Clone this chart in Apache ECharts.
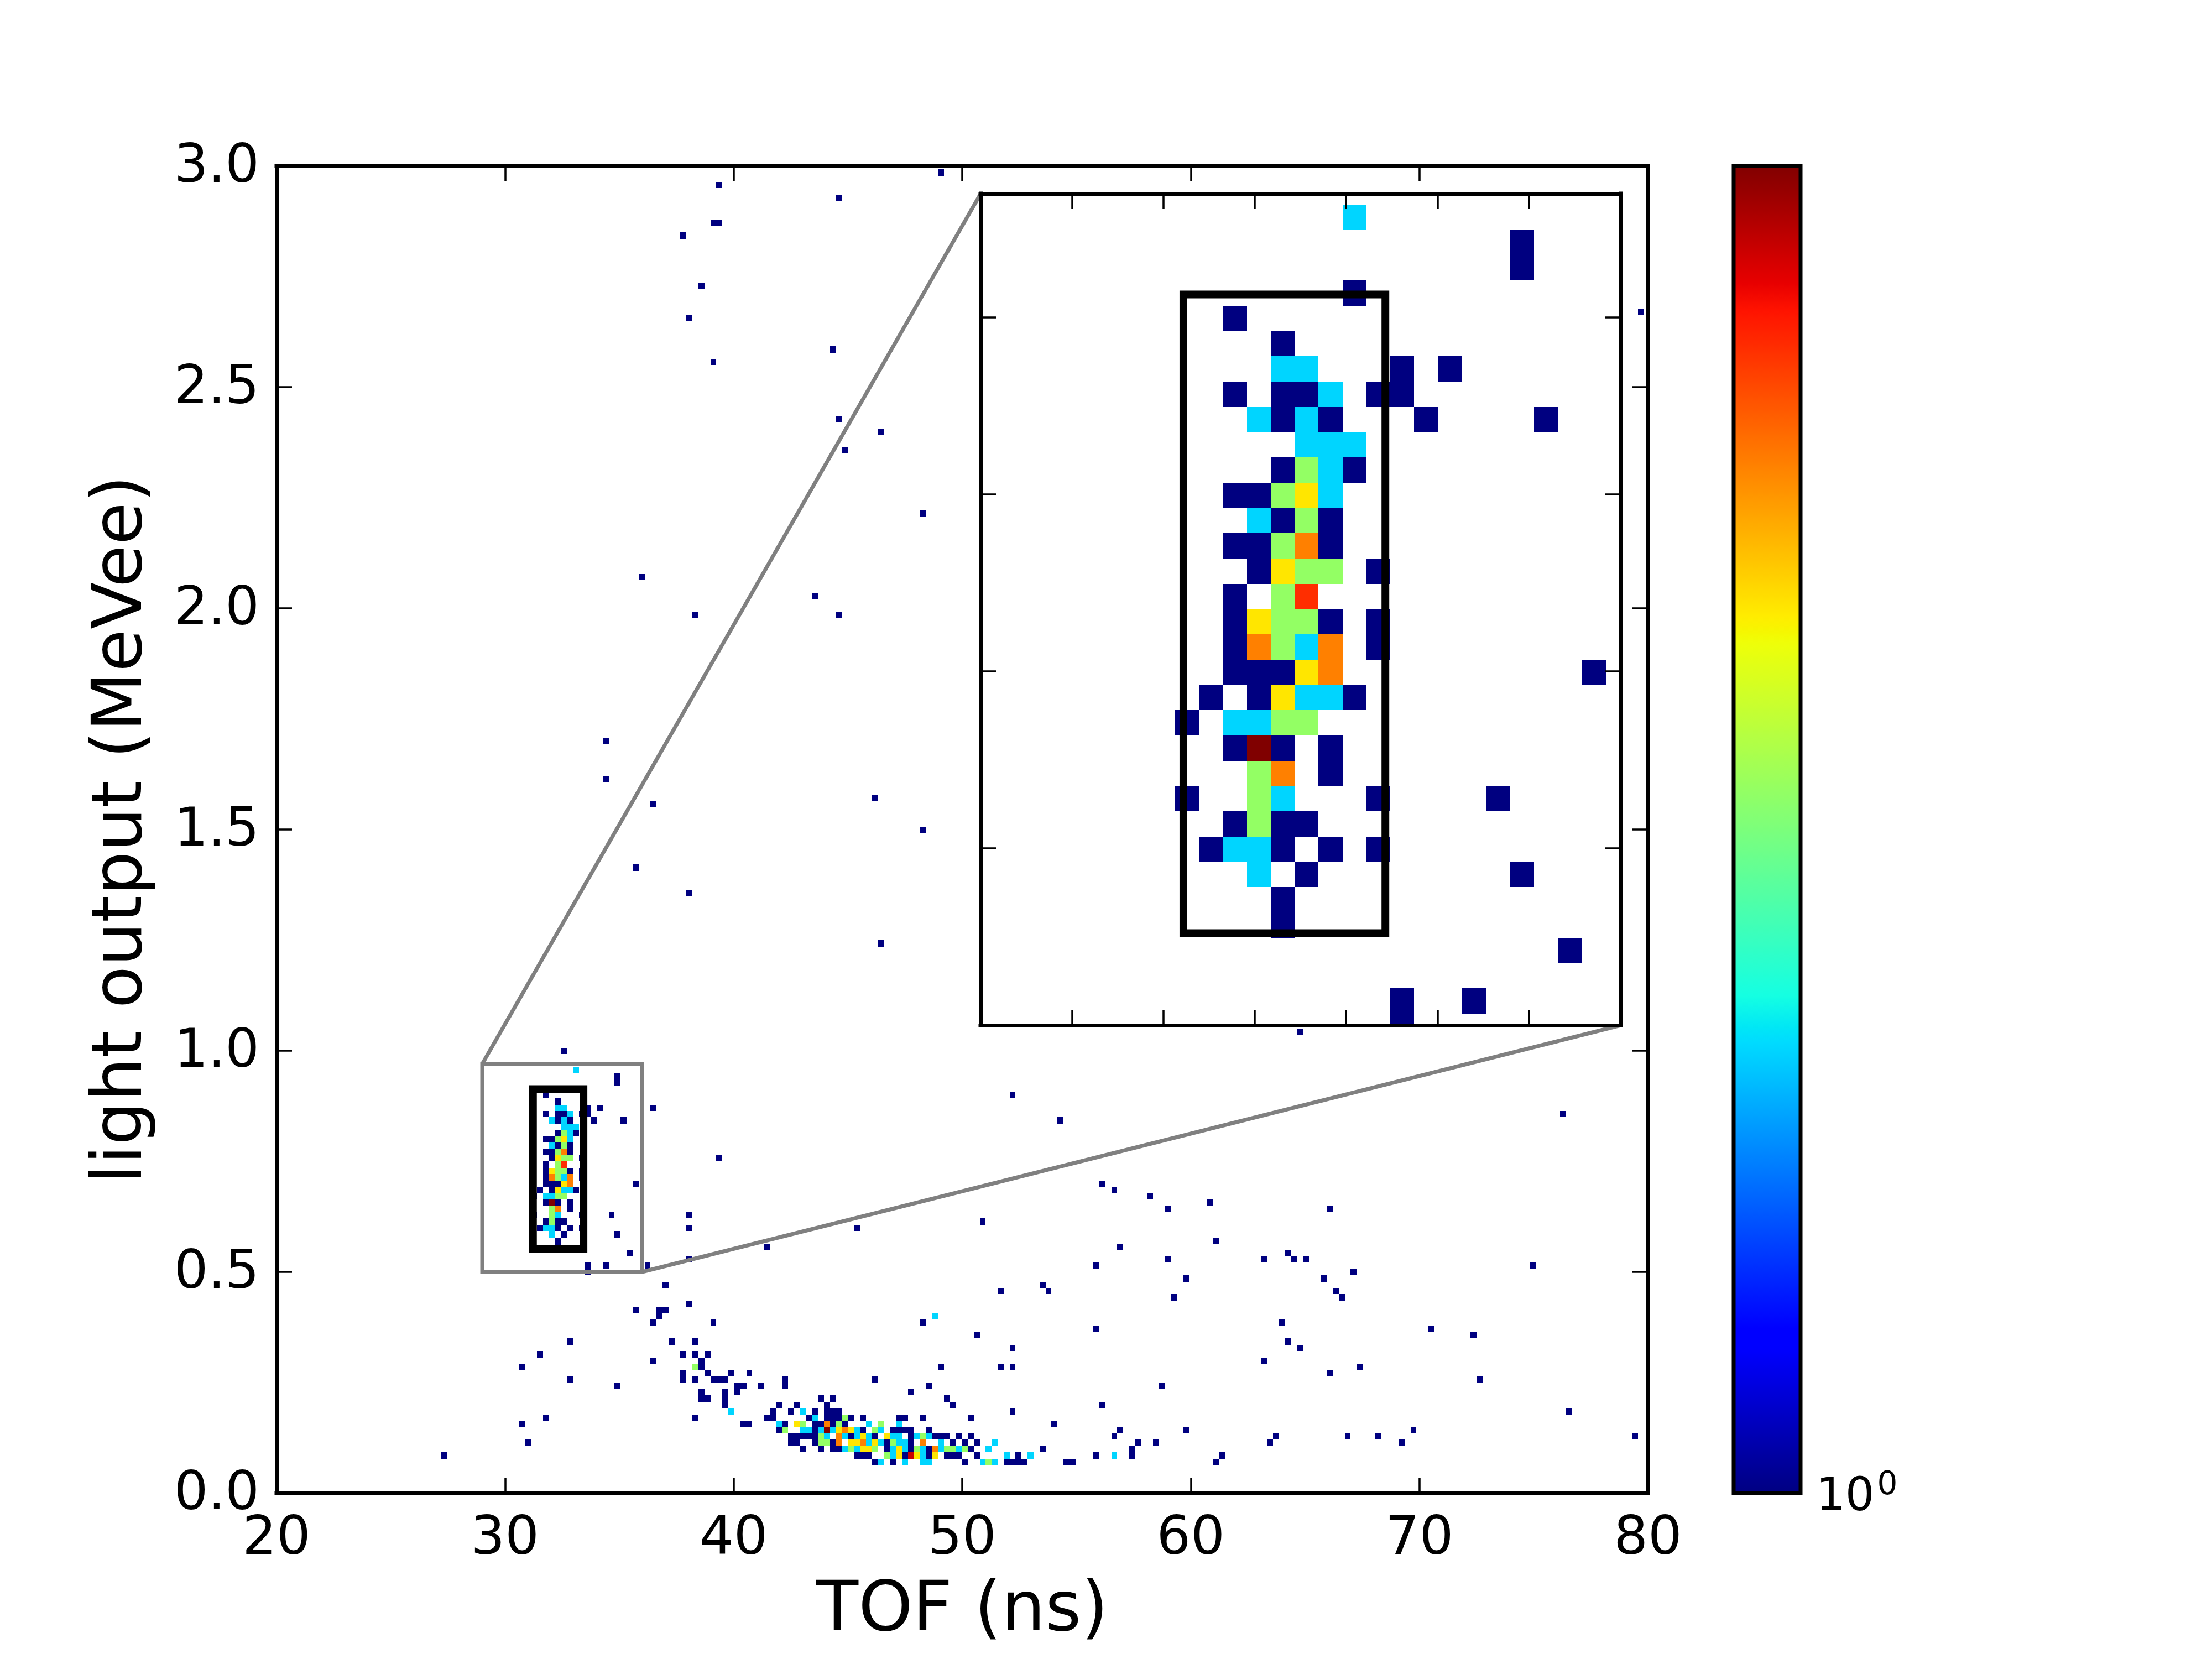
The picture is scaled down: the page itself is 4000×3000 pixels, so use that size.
<!DOCTYPE html>
<html>
<head>
<meta charset="utf-8">
<title>TOF vs light output</title>
<script src="https://cdn.jsdelivr.net/npm/echarts@6/dist/echarts.min.js"></script>
<style>
  html, body { margin: 0; padding: 0; background: #fff; }
  #chart { width: 4000px; height: 3000px; }
</style>
</head>
<body>
<div id="chart"></div>
<script>
// Occupied histogram bins, grouped by event count. Every entry is [lightBin, tofBin, tofBin, ...].
const countOneBins = [
  [4, 71,74,86,93,94,95,96,103,104,128],
  [5, -1,68,69,70,76,80,83,84,85,88,95,108,114,129],
  [6, 59,62,64,65,73,77,80,87,99,114],
  [7, 13,57,58,61,64,73,77,84,86,88,115,118,137,159],
  [8, 57,58,59,60,61,67,71,77,81,82,83,85,87,111,138,150,155,198],
  [9, 55,61,69,74,75,76,77,80,112,123,161],
  [10, 12,49,50,56,61,62,64,66,101],
  [11, 16,41,53,54,60,63,64,65,67,69,75,76,79,87],
  [12, 54,57,61,63,64,65,94,187],
  [13, 46,55,58,63,84,109],
  [14, 42,43,46,62,64,83],
  [15, 42,46,48,77],
  [16, 28,48,49,52,56,80,119],
  [17, 20,39,41,44,45,46,56,71,172],
  [18, 39,43,47,50,147],
  [19, 12,42,82,92,94,152],
  [20, 34,42,136],
  [21, 15,39,41,43],
  [22, 94,142],
  [23, 20,37,41,140],
  [24, 88,171],
  [25, 108,164],
  [26, 34,44,79,139],
  [27, 35],
  [28, 31,35,36],
  [29, 40],
  [30, 121,149],
  [31, 92,100,148],
  [32, 36,99],
  [33, 123,146],
  [34, 23,151],
  [35, 23,26,33,108,181],
  [36, 40,120,136,141,143],
  [37, 30,140],
  [38, 18,53,112],
  [39, 18,128],
  [40, 19,28],
  [41, 15,18,20,22,40,68],
  [42, 16,18,19,89],
  [43, 14,22,27,40],
  [44, 20,120,147],
  [45, 16,18,20,127],
  [46, 14,117],
  [47, 15,17,21,111],
  [48, 16,17,18,31,109],
  [49, 16,22],
  [50, 16,20,22],
  [51, 16],
  [52, 17,22,45],
  [53, 16,17,20],
  [54, 18,20],
  [55, 16,17],
  [56, 18,21],
  [58, 18,20,24,29,102],
  [59, 16,18,19,22,23,186],
  [60, 23,25,34],
  [61, 18],
  [62, 16,94],
  [63, 21],
  [64, 28],
  [65, 28],
  [69, 19],
  [72, 142],
  [86, 72],
  [94, 40],
  [98, 31],
  [104, 79],
  [108, 34],
  [109, 71],
  [112, 26],
  [118, 26],
  [138, 41,65],
  [141, 61],
  [144, 32],
  [154, 79],
  [164, 66],
  [167, 72],
  [169, 65],
  [178, 44],
  [180, 64],
  [185, 40],
  [186, 199],
  [190, 42],
  [198, 39],
  [200, 44,45],
  [204, 65],
  [206, 45],
  [208, 82]
];
const countTwoBins = [
  [4, 72,76,79,80,89,91],
  [5, 74,79,93,97,111],
  [6, 66,68,74,76,79,82,85,90],
  [7, 70,72,75,76,82,91],
  [8, 63,66,68,70,74,75,78,80],
  [9, 59,60,62,64,68,72],
  [10, 55,70,75],
  [11, 61],
  [12, 47,59],
  [27, 81],
  [40, 17],
  [41, 16,17],
  [43, 18],
  [46, 16,17],
  [47, 19,20],
  [49, 19],
  [54, 17],
  [55, 20],
  [56, 20],
  [57, 19,20,21],
  [58, 17,19],
  [59, 20],
  [60, 18,19],
  [66, 21]
];
const countThreeBins = [
  [4, 90],
  [5, 73],
  [6, 67,71,78,83,84,86],
  [7, 62,63,74],
  [8, 62,79],
  [9, 56,71],
  [10, 59,65,72],
  [11, 66],
  [19, 41],
  [42, 17],
  [43, 17],
  [44, 17],
  [46, 18,19],
  [49, 18],
  [50, 18,19],
  [51, 18],
  [52, 19,20],
  [53, 18],
  [54, 19],
  [55, 18],
  [56, 19]
];
const countFourBins = [
  [5, 75,78,81],
  [6, 69,70,75],
  [7, 67,68,71],
  [8, 69,73],
  [9, 65,67],
  [10, 58],
  [47, 18],
  [48, 19],
  [50, 17],
  [52, 18],
  [55, 19]
];
const countFiveBins = [
  [6, 81],
  [7, 65,69,79],
  [8, 65],
  [9, 66],
  [10, 63],
  [44, 18],
  [48, 20],
  [49, 17,20],
  [53, 19]
];
const countSixBins = [[51, 19]];
const countSevenBins = [[5, 77]];
const countEightBins = [[9, 63], [45, 17]];
const binsByCount = [countOneBins, countTwoBins, countThreeBins, countFourBins,
                     countFiveBins, countSixBins, countSevenBins, countEightBins];

// Histogram binning (ns and MeVee)
const tofOrigin = 27.463;
const tofBinWidth = 0.2618;
const lightOrigin = 0.0066;
const lightBinWidth = 1 / 70;
const countMax = 8;

// Axis ranges and the two marked regions, as [tofMin, tofMax, lightMin, lightMax]
const mainRange = [20, 80, 0, 3];
const zoomRegion = [29, 36, 0.5, 0.97];
const peakRegion = [31.22, 33.43, 0.552, 0.913];

// Connector ends, in main-axis coordinates: [zoom region corner, inset corner]
const connectorUpper = [[29, 0.97], [50.81, 2.9375]];
const connectorLower = [[36, 0.5], [78.81, 1.0575]];

const xTicksMain = 10, yTicksMain = 0.5, xTicksInset = 1, yTicksInset = 0.1;
const xAxisTitle = 'TOF (ns)';
const yAxisTitle = 'light output (MeVee)';

const FONT = '"DejaVu Sans"';
const GREY = '#808080';

// The classic jet colormap, as piecewise-linear channels
const jetChannels = [
  [[0, 0], [0.35, 0], [0.66, 1], [0.89, 1], [1, 0.5]],
  [[0, 0], [0.125, 0], [0.375, 1], [0.64, 1], [0.91, 0], [1, 0]],
  [[0, 0.5], [0.11, 1], [0.34, 1], [0.65, 0], [1, 0]]
];
function jet(t) {
  const part = jetChannels.map(function (pts) {
    for (let i = 1; i < pts.length; i++) {
      if (t <= pts[i][0]) {
        const f = (t - pts[i - 1][0]) / (pts[i][0] - pts[i - 1][0]);
        return Math.round(255 * (pts[i - 1][1] + f * (pts[i][1] - pts[i - 1][1])));
      }
    }
    return Math.round(255 * pts[pts.length - 1][1]);
  });
  return 'rgb(' + part.join(',') + ')';
}
const countColor = function (n) { return jet(Math.log(n) / Math.log(countMax)); };

// Flatten the grouped bins into [tofLow, lightLow, tofHigh, lightHigh, count]
const histogramRows = [];
binsByCount.forEach(function (group, idx) {
  group.forEach(function (entry) {
    const row = entry[0];
    entry.slice(1).forEach(function (col) {
      histogramRows.push([
        tofOrigin + col * tofBinWidth,
        lightOrigin + row * lightBinWidth,
        tofOrigin + (col + 1) * tofBinWidth,
        lightOrigin + (row + 1) * lightBinWidth,
        idx + 1
      ]);
    });
  });
});

function clippedRect(params, api) {
  const a = api.coord([api.value(0), api.value(1)]);
  const b = api.coord([api.value(2), api.value(3)]);
  const x0 = Math.round(a[0]), x1 = Math.round(b[0]);
  const y0 = Math.round(b[1]), y1 = Math.round(a[1]);
  return echarts.graphic.clipRectByRect(
    { x: x0, y: y0, width: x1 - x0, height: y1 - y0 },
    { x: params.coordSys.x, y: params.coordSys.y, width: params.coordSys.width, height: params.coordSys.height }
  );
}
function renderBin(params, api) {
  const shape = clippedRect(params, api);
  if (!shape) return null;
  return { type: 'rect', shape: shape, style: { fill: countColor(api.value(4)) } };
}
function boxRenderer(style) {
  return function (params, api) {
    const a = api.coord([api.value(0), api.value(1)]);
    const b = api.coord([api.value(2), api.value(3)]);
    return {
      type: 'rect',
      shape: { x: a[0], y: b[1], width: b[0] - a[0], height: a[1] - b[1] },
      style: style
    };
  };
}
function histogramSeries(axis, z) {
  return {
    type: 'custom', xAxisIndex: axis, yAxisIndex: axis, z: z, silent: true,
    renderItem: renderBin, data: histogramRows,
    encode: { x: [0, 2], y: [1, 3] }
  };
}
function boxSeries(axis, z, range, style) {
  return {
    type: 'custom', xAxisIndex: axis, yAxisIndex: axis, z: z, silent: true,
    renderItem: boxRenderer(style),
    data: [[range[0], range[2], range[1], range[3]]],
    encode: { x: [0, 2], y: [1, 3] }
  };
}
function connectorSeries(points) {
  return {
    type: 'line', xAxisIndex: 0, yAxisIndex: 0, z: 4, silent: true, data: points,
    showSymbol: false, symbol: 'none', lineStyle: { color: GREY, width: 7 }
  };
}

const frameLine = { show: true, onZero: false, lineStyle: { color: '#000', width: 7, cap: 'square' } };
const frameTick = { show: true, inside: true, length: 28, lineStyle: { color: '#000', width: 3.5 } };
const tickText = { show: true, color: '#000', fontFamily: FONT, fontSize: 97 };
const titleText = { color: '#000', fontFamily: FONT, fontSize: 125 };

function frameAxis(gridIndex, position, range, interval, z) {
  return {
    type: 'value', gridIndex: gridIndex, position: position,
    min: range[0], max: range[1], interval: interval, z: z,
    axisLine: frameLine, axisTick: frameTick, axisLabel: { show: false },
    splitLine: { show: false }
  };
}

const xMainBottom = frameAxis(0, 'bottom', [mainRange[0], mainRange[1]], xTicksMain, 5);
xMainBottom.axisLabel = Object.assign({ margin: 36, showMinLabel: true, showMaxLabel: true,
  formatter: function (v) { return String(v); } }, tickText);
xMainBottom.name = xAxisTitle;
xMainBottom.nameLocation = 'middle';
xMainBottom.nameGap = 153;
xMainBottom.nameTextStyle = titleText;

const yMainLeft = frameAxis(0, 'left', [mainRange[2], mainRange[3]], yTicksMain, 5);
yMainLeft.axisLabel = Object.assign({ margin: 31, showMinLabel: true, showMaxLabel: true,
  formatter: function (v) { return '{t|' + v.toFixed(1) + '}'; },
  rich: { t: { fontFamily: FONT, fontSize: 97, color: '#000', padding: [8, 0, 0, 0] } }
}, tickText);
yMainLeft.name = yAxisTitle;
yMainLeft.nameLocation = 'middle';
yMainLeft.nameGap = 215;
yMainLeft.nameTextStyle = titleText;

const chart = echarts.init(document.getElementById('chart'), null, { renderer: 'canvas', width: 4000, height: 3000 });
const colorbarStops = [];
for (let i = 0; i <= 256; i++) colorbarStops.push({ offset: i / 256, color: jet(i / 256) });

chart.setOption({
  animation: false,
  backgroundColor: '#fff',
  grid: [
    { left: 500, top: 300, width: 2480, height: 2400, containLabel: false },
    { left: 1773, top: 350, width: 1157, height: 1504, containLabel: false },
    { left: 3135, top: 300, width: 121, height: 2400, containLabel: false }
  ],
  xAxis: [
    xMainBottom,
    frameAxis(0, 'top', [mainRange[0], mainRange[1]], xTicksMain, 5),
    frameAxis(1, 'bottom', [zoomRegion[0], zoomRegion[1]], xTicksInset, 9),
    frameAxis(1, 'top', [zoomRegion[0], zoomRegion[1]], xTicksInset, 9),
    { type: 'value', gridIndex: 2, min: 0, max: 1, show: false }
  ],
  yAxis: [
    yMainLeft,
    frameAxis(0, 'right', [mainRange[2], mainRange[3]], yTicksMain, 5),
    frameAxis(1, 'left', [zoomRegion[2], zoomRegion[3]], yTicksInset, 9),
    frameAxis(1, 'right', [zoomRegion[2], zoomRegion[3]], yTicksInset, 9),
    {
      type: 'log', gridIndex: 2, position: 'right', min: 1, max: countMax, logBase: 10, z: 5,
      axisLine: { show: false }, axisTick: { show: false }, splitLine: { show: false },
      axisLabel: {
        show: true, showMinLabel: true, margin: 28, color: '#000', fontFamily: FONT,
        formatter: function (v) { return Math.abs(v - 1) < 1e-6 ? '{base|10}{power|0}' : ''; },
        rich: {
          base: { fontFamily: FONT, fontSize: 83, color: '#000', padding: [18, 0, 0, 0] },
          power: { fontFamily: FONT, fontSize: 58, color: '#000', padding: [0, 0, 26, 5] }
        }
      }
    }
  ],
  series: [
    histogramSeries(0, 2),
    boxSeries(0, 3, peakRegion, { fill: 'none', stroke: '#000', lineWidth: 14 }),
    boxSeries(0, 3, zoomRegion, { fill: 'none', stroke: GREY, lineWidth: 7 }),
    connectorSeries(connectorUpper),
    connectorSeries(connectorLower),
    boxSeries(2, 6, [zoomRegion[0], zoomRegion[1], zoomRegion[2], zoomRegion[3]], { fill: '#fff' }),
    histogramSeries(2, 7),
    boxSeries(2, 8, peakRegion, { fill: 'none', stroke: '#000', lineWidth: 14 }),
    {
      type: 'custom', xAxisIndex: 4, yAxisIndex: 4, z: 3, silent: true,
      renderItem: boxRenderer({
        fill: new echarts.graphic.LinearGradient(0, 1, 0, 0, colorbarStops),
        stroke: '#000', lineWidth: 7
      }),
      data: [[0, 1, 1, countMax]],
      encode: { x: [0, 2], y: [1, 3] }
    }
  ]
});
</script>
</body>
</html>
